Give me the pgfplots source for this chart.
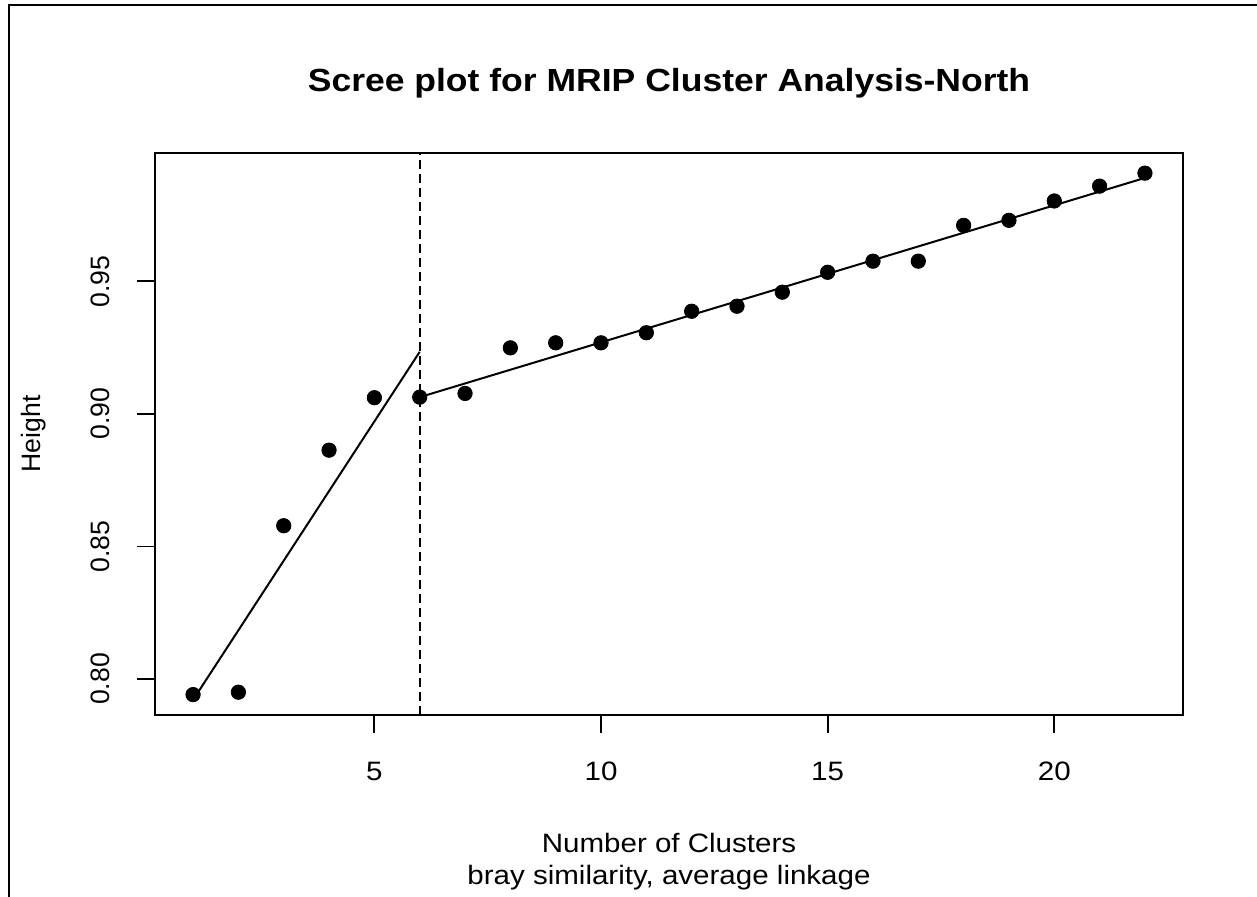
\documentclass[border=0pt]{standalone}
\usepackage{fontspec}
\setmainfont{Liberation Sans}
\usepackage{pgfplots}
\pgfplotsset{compat=1.18}

% cluster heights
\newcommand{\lbl}{\fontsize{13.3}{16}\selectfont}

\begin{document}
\begin{tikzpicture}
\useasboundingbox (-77.5pt,-90.5pt) rectangle (551pt,357.5pt);
\begin{axis}[
  at={(0,0)}, anchor=south west,
  scale only axis,
  width=514pt, height=281pt,
  xmin=0.16, xmax=22.84,
  ymin=0.7864, ymax=0.9984,
  xtick={5,10,15,20},
  ytick={0.80,0.85,0.90,0.95},
  yticklabels={0.80,0.85,0.90,0.95},
  xtick pos=bottom, ytick pos=left,
  tick align=outside,
  major tick length=9pt,
  tick style={black, line width=0.9pt},
  axis line style={line width=0.9pt},
  /pgf/number format/assume math mode=true,
  xticklabel style={font=\lbl, anchor=base, yshift=-23.5pt, xscale=1.11},
  yticklabel style={font=\lbl, anchor=base, xshift=-13.5pt, rotate=90},
  clip=false,
]
\addplot[only marks, mark=*, mark size=3.6pt, black] coordinates {
  (1,0.7941) (2,0.7950) (3,0.8578) (4,0.8863) (5,0.9061) (6,0.9063)
  (7,0.9077) (8,0.9249) (9,0.9268) (10,0.9268) (11,0.9306) (12,0.9387)
  (13,0.9406) (14,0.9459) (15,0.9534) (16,0.9576) (17,0.9576) (18,0.9711)
  (19,0.9730) (20,0.9803) (21,0.9859) (22,0.9908)
};
\addplot[black, line width=1pt] coordinates {(1,0.7921) (6,0.9234)};
\addplot[black, line width=1pt] coordinates {(6,0.9063) (22,0.9890)};
\addplot[black, line width=1pt, dash pattern=on 4.5pt off 2.5pt] coordinates {(6,0.7864) (6,0.9984)};
\end{axis}
\node[anchor=base, xscale=1.11, font=\fontsize{16}{19}\selectfont\bfseries] at (257pt,311.5pt) {Scree plot for MRIP Cluster Analysis-North};
\node[anchor=base, xscale=1.11, font=\lbl] at (257pt,-68.5pt) {Number of Clusters};
\node[anchor=base, xscale=1.11, font=\lbl] at (257pt,-84.5pt) {bray similarity, average linkage};
\node[anchor=base, rotate=90, font=\lbl] at (-57pt,140.5pt) {Height};
\draw[line width=1pt] (-73pt,-95pt) -- (-73pt,355pt) -- (555pt,355pt);
\end{tikzpicture}
\end{document}
